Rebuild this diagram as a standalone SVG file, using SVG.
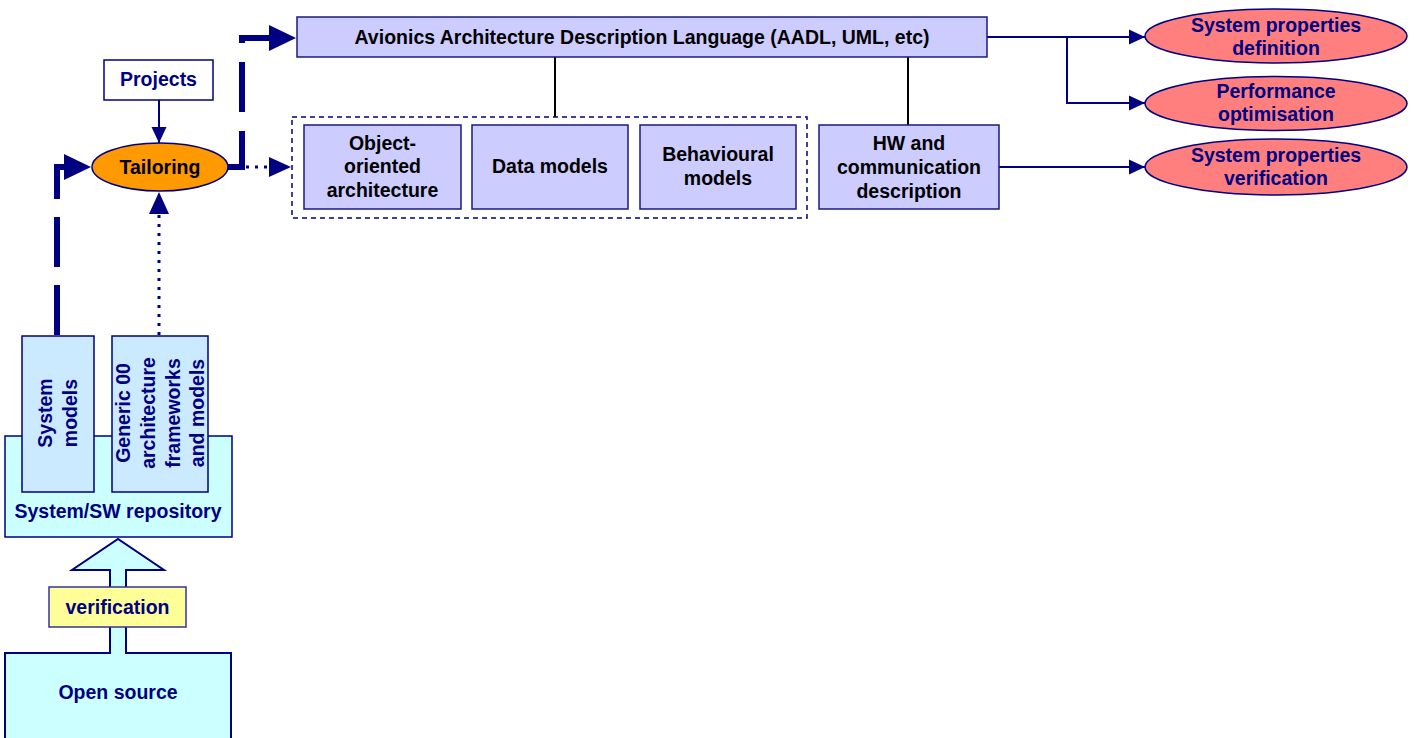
<svg xmlns="http://www.w3.org/2000/svg" width="1415" height="738" viewBox="0 0 1415 738">
<style>
text{font-family:"Liberation Sans",Arial,sans-serif;font-weight:bold;font-size:19.5px;text-anchor:middle}
.nv{fill:#000080}
.bk{fill:#000}
.lav{fill:#CCCCFF;stroke:#1A1A80;stroke-width:1.5}
.ell{fill:#FF7F7F;stroke:#000080;stroke-width:1.5}
.cyan{fill:#CCFFFF;stroke:#000080;stroke-width:1.5}
.lb{fill:#CCEAFF;stroke:#000080;stroke-width:1.5}
.ln{fill:none;stroke:#000080;stroke-width:2}
</style>
<defs>
<marker id="big" markerUnits="userSpaceOnUse" markerWidth="28" markerHeight="28" refX="27" refY="13" orient="auto"><path d="M0,0L27,13L0,26Z" fill="#000080"/></marker>
<marker id="med" markerUnits="userSpaceOnUse" markerWidth="24" markerHeight="22" refX="22" refY="10" orient="auto"><path d="M0,0L22,10L0,20Z" fill="#000080"/></marker>
<marker id="sm" markerUnits="userSpaceOnUse" markerWidth="18" markerHeight="18" refX="16" refY="8" orient="auto"><path d="M0,0.5L16,8L0,15.5Z" fill="#000080"/></marker>
</defs>

<g id="connectors">
<path d="M57,335V167H91" fill="none" stroke="#000080" stroke-width="6" stroke-dasharray="50,18" marker-end="url(#big)"/>
<path d="M228,167H242V38H296" fill="none" stroke="#000080" stroke-width="6" stroke-dasharray="50,19" marker-end="url(#big)"/>
<path d="M246,167H291" fill="none" stroke="#000080" stroke-width="3" stroke-dasharray="3,6" marker-end="url(#med)"/>
<path d="M159,335V192" fill="none" stroke="#000080" stroke-width="3" stroke-dasharray="3,6" marker-end="url(#med)"/>
<path d="M159,100V143" class="ln" marker-end="url(#sm)"/>
<path d="M555,57V117M908,57V125" stroke="#000" stroke-width="2" fill="none"/>
<path d="M987,37H1145" class="ln" marker-end="url(#sm)"/>
<path d="M1067,37V103H1145" class="ln" marker-end="url(#sm)"/>
<path d="M999,167H1145" class="ln" marker-end="url(#sm)"/>
</g>

<g id="projects">
<rect x="104" y="60" width="109" height="40" fill="#fff" stroke="#000080" stroke-width="1.5"/>
<text x="158.5" y="86" class="nv">Projects</text>
</g>

<g id="tailoring">
<ellipse cx="160" cy="167" rx="68" ry="24" fill="#FF9900" stroke="#000080" stroke-width="1.5"/>
<text x="160" y="174" class="bk">Tailoring</text>
</g>

<g id="aadl">
<rect x="297" y="17" width="690" height="40" class="lav"/>
<text x="642" y="44" class="bk">Avionics Architecture Description Language (AADL, UML, etc)</text>
</g>

<g id="group-models">
<rect x="292" y="117" width="515" height="101" fill="none" stroke="#000080" stroke-width="1.5" stroke-dasharray="5,4"/>
</g>

<g id="oo-arch">
<rect x="304" y="125" width="157" height="84" class="lav"/>
<text x="382.5" y="150" class="bk">Object-</text>
<text x="382.5" y="173" class="bk">oriented</text>
<text x="382.5" y="197" class="bk">architecture</text>
</g>

<g id="data-models">
<rect x="472" y="125" width="156" height="84" class="lav"/>
<text x="550" y="173" class="bk">Data models</text>
</g>

<g id="behavioural">
<rect x="640" y="125" width="156" height="84" class="lav"/>
<text x="718" y="161" class="bk">Behavioural</text>
<text x="718" y="185" class="bk">models</text>
</g>

<g id="hw">
<rect x="819" y="125" width="180" height="84" class="lav"/>
<text x="909" y="150" class="bk">HW and</text>
<text x="909" y="174" class="bk">communication</text>
<text x="909" y="198" class="bk">description</text>
</g>

<g id="spdef">
<ellipse cx="1276" cy="36" rx="131" ry="27" class="ell"/>
<text x="1276" y="32" class="nv">System properties</text>
<text x="1276" y="55" class="nv">definition</text>
</g>

<g id="perf">
<ellipse cx="1276" cy="103.5" rx="131" ry="27" class="ell"/>
<text x="1276" y="98" class="nv">Performance</text>
<text x="1276" y="121" class="nv">optimisation</text>
</g>

<g id="spver">
<ellipse cx="1276" cy="167" rx="131" ry="28" class="ell"/>
<text x="1276" y="162" class="nv">System properties</text>
<text x="1276" y="185" class="nv">verification</text>
</g>

<g id="repository">
<rect x="5" y="436" width="227" height="101" class="cyan"/>
<text x="118" y="518" class="nv">System/SW repository</text>
</g>

<g id="system-models">
<rect x="22" y="336" width="72" height="156" class="lb"/>
<text transform="translate(52,413) rotate(-90)" class="nv">System</text>
<text transform="translate(77,413) rotate(-90)" class="nv">models</text>
</g>

<g id="generic">
<rect x="112" y="336" width="96" height="156" class="lb"/>
<text transform="translate(130,413) rotate(-90)" class="nv">Generic 00</text>
<text transform="translate(155,413) rotate(-90)" class="nv">architecture</text>
<text transform="translate(180,413) rotate(-90)" class="nv">frameworks</text>
<text transform="translate(204,413) rotate(-90)" class="nv">and models</text>
</g>

<g id="open-source">
<path d="M5,738V653H231V738" fill="#CCFFFF" stroke="#000080" stroke-width="2"/>
<text x="118" y="699" class="nv">Open source</text>
</g>

<g id="block-arrow">
<path d="M110,653V570H72L118,539L164,570H126V653" fill="#CCFFFF" stroke="#000080" stroke-width="2"/>
<rect x="111" y="650" width="14" height="5" fill="#CCFFFF"/>
</g>

<g id="verification">
<rect x="49" y="587" width="137" height="40" fill="#FFFF99" stroke="#333399" stroke-width="1.5"/>
<text x="117.5" y="614" class="nv">verification</text>
</g>
</svg>
